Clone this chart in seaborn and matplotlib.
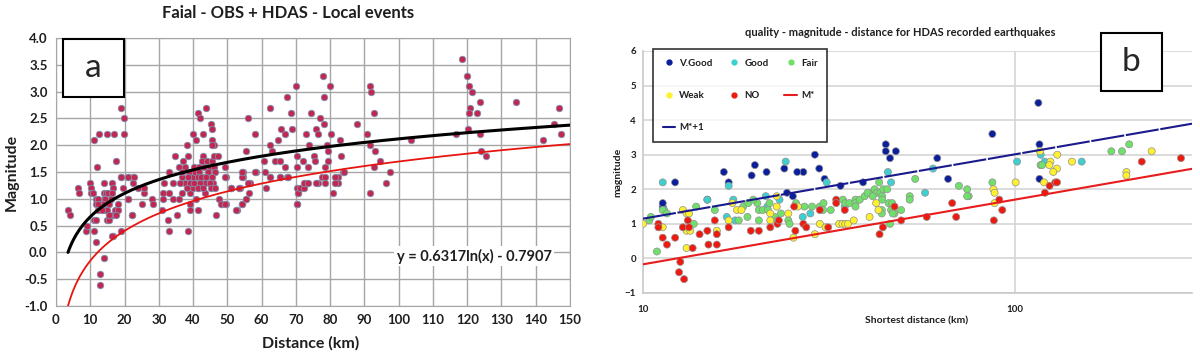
import numpy as np
import pandas as pd
import matplotlib
matplotlib.use("Agg")
import matplotlib.pyplot as plt
import seaborn as sns
from matplotlib.lines import Line2D
from matplotlib.patches import Rectangle

# ---- panel a : Faial OBS + HDAS local events ----
dist_a = [3.6, 4.1, 6.3, 6.6, 8.7, 9.1, 10.0, 10.1, 10.1, 10.8, 11.2, 11.8, 11.0, 11.6,
          11.8, 11.8, 12.3, 12.9, 12.9, 14.0, 14.0, 14.0, 14.6, 15.3, 14.0, 15.0, 14.3, 15.0,
          14.0, 14.4, 14.9, 15.6, 16.5, 16.2, 16.2, 16.5, 16.2, 17.2, 18.0, 16.5, 17.5, 18.0,
          18.9, 19.0, 19.5, 20.9, 22.6, 20.9, 22.4, 22.2, 25.0, 25.7, 24.0, 28.0, 28.4, 30.8,
          31.3, 31.3, 31.6, 32.7, 33.1, 33.0, 34.0, 34.0, 35.2, 36.0, 36.7, 36.8, 37.5, 38.6,
          39.0, 39.0, 39.0, 40.0, 40.0, 40.8, 41.4, 42.0, 41.5, 43.0, 43.5, 43.5, 45.0, 45.7,
          46.8, 47.5, 48.5, 49.7, 49.7, 51.2, 52.7, 53.6, 54.3, 54.5, 54.5, 55.5, 56.2, 56.6,
          58.5, 61.0, 61.2, 62.5, 65.3, 67.3, 70.3, 70.6,
          # upper group 10-25 km
          19.1, 19.8, 11.1, 12.5, 14.9, 16.9, 19.8, 17.4, 12.0, 19.0, 21.1, 22.7, 12.2, 13.6,
          16.0, 15.6, 13.4, 15.6, 12.4, 22.2, 25.7, 21.1,
          # upper group 30-50 km
          41.5, 43.9, 42.0, 40.0, 42.9, 41.0, 38.3, 46.0, 34.8, 38.6, 43.0, 37.0, 42.5, 44.0,
          45.5, 35.8, 37.5, 40.2, 41.8, 43.3, 44.8, 46.2, 33.0, 36.8, 38.8, 40.5, 41.8, 44.5,
          46.3, 38.5, 41.3, 42.2, 43.7, 45.5, 36.2, 39.0, 40.3, 42.0, 44.8, 38.2, 41.5, 43.0,
          45.3, 46.5, 45.1, 45.6, 45.5, 45.5, 46.0, 47.3, 49.3, 49.4, 51.2, 53.5, 48.2, 49.2,
          52.5, 54.2, 55.5, 56.1, 54.2, 54.2, 55.5, 56.1, 58.0, 58.0,
          # 60-100 km
          60.7, 62.4, 62.4, 62.9, 62.4, 63.8, 65.3, 64.8, 65.8, 66.8, 66.8, 65.3, 67.7, 67.4,
          68.7, 68.9, 70.1, 70.3, 70.3, 72.0, 73.1, 73.8, 74.4, 75.2, 75.5, 76.0, 76.4, 76.9,
          78.1, 77.8, 78.1, 80.0, 79.0, 79.5, 79.5, 78.4, 80.3, 83.0, 83.2, 83.7, 70.4, 71.6,
          72.9, 70.2, 70.7, 71.2, 72.3, 72.3, 73.6, 76.5, 78.4, 77.5, 78.6, 80.8, 82.2, 82.2,
          84.1, 73.4, 76.0, 81.5, 81.5, 91.5, 92.0, 92.8, 87.7, 90.9, 91.5, 93.2, 92.7, 94.5,
          97.4, 91.7, 96.2, 103.7,
          # 115-150 km
          118.6, 119.9, 120.5, 121.5, 123.6, 120.7, 120.4, 123.0, 120.2, 116.8, 123.6, 123.9,
          125.4, 134.3, 142.1, 145.2, 146.9, 147.4]
mag_a = [0.8, 0.7, 1.2, 1.1, 0.4, 0.5, 1.3, 1.2, 1.1, 1.1, 0.4, 0.2, 0.6, 0.6,
         1.0, 0.9, 0.8, -0.4, -0.6, -0.1, 1.3, 1.1, 1.1, 1.1, 0.9, 0.9, 0.8, 0.8,
         1.0, 1.0, 0.6, 0.6, 0.3, 0.3, 1.3, 1.2, 1.1, 0.8, 0.8, 0.7, 0.7, 0.9,
         0.4, 1.4, 1.2, 1.4, 1.4, 1.0, 1.3, 0.7, 0.9, 1.1, 1.2, 1.0, 0.9, 0.8,
         1.1, 1.0, 1.3, 0.6, 0.4, 1.1, 1.0, 1.3, 0.7, 1.0, 1.1, 1.4, 1.3, 0.4,
         0.9, 0.8, 1.1, 1.4, 1.2, 1.0, 1.2, 1.3, 0.8, 1.4, 1.3, 1.1, 1.3, 1.3,
         0.7, 1.0, 0.9, 0.9, 1.4, 1.2, 0.8, 1.2, 0.9, 1.4, 1.5, 1.0, 1.1, 1.3,
         1.5, 1.5, 1.2, 1.4, 1.4, 1.4, 0.9, 1.1,
         2.7, 2.5, 2.1, 2.2, 2.2, 2.2, 2.2, 1.7, 1.6, 1.4, 1.4, 1.4, 1.0, 0.9,
         1.0, 0.9, 0.8, 0.7, 0.9, 0.7, 1.2, 1.0,
         2.6, 2.7, 2.5, 2.2, 2.2, 2.1, 2.0, 2.0, 1.8, 1.8, 1.8, 1.7, 1.7, 1.7,
         1.7, 1.6, 1.6, 1.6, 1.6, 1.6, 1.6, 1.6, 1.5, 1.5, 1.5, 1.5, 1.5, 1.5,
         1.5, 1.4, 1.4, 1.4, 1.4, 1.4, 1.3, 1.3, 1.3, 1.3, 1.3, 1.2, 1.2, 1.2,
         1.2, 1.2, 2.4, 2.3, 2.1, 2.0, 1.8, 1.8, 1.6, 1.4, 1.2, 1.2, 0.9, 0.9,
         0.8, 0.9, 1.0, 1.3, 1.4, 1.5, 1.9, 2.5, 2.2, 1.5,
         1.7, 2.7, 2.0, 1.9, 1.4, 1.7, 1.7, 2.1, 2.3, 2.2, 1.6, 1.4, 1.4, 2.9,
         2.6, 2.3, 3.1, 1.8, 1.6, 1.7, 2.2, 2.0, 2.6, 1.8, 1.7, 2.3, 2.2, 2.5,
         2.4, 3.3, 2.9, 3.1, 2.0, 1.9, 1.7, 1.6, 2.2, 2.1, 1.8, 1.5, 1.2, 1.2,
         1.3, 0.9, 1.1, 1.2, 1.2, 1.3, 1.3, 1.3, 1.3, 1.4, 1.4, 1.1, 1.4, 1.3,
         1.5, 1.6, 1.3, 1.4, 1.3, 3.1, 3.0, 2.6, 2.4, 2.2, 2.0, 1.9, 1.6, 1.7,
         1.5, 1.1, 1.3, 2.1,
         3.6, 3.3, 3.1, 3.0, 2.8, 2.7, 2.6, 2.6, 2.3, 2.2, 2.2, 1.9,
         1.8, 2.8, 2.1, 2.4, 2.7, 2.2]

# fit curves shown in panel a
fit_coef = (0.6317, -0.7907)     # black: y = a ln(x) + b
mstar_a_coef = (0.804, -2.007)   # red curve

# ---- panel b : quality - magnitude - distance ----
vgood_d = [11.3, 11.3, 12.2, 14.9, 16.5, 17.0, 19.6, 20.0, 24.0, 24.4, 25.3, 27.0, 29.0,
           29.8, 30.8, 34.0, 39.1, 45.0, 45.0, 47.9, 46.2, 61.9, 66.2, 87.1, 115.8, 116.6,
           116.6, 21.5, 26.0]
vgood_m = [1.5, 1.6, 2.2, 1.7, 2.5, 2.2, 2.4, 2.7, 2.6, 1.9, 1.8, 2.5, 3.0,
           2.6, 2.3, 2.1, 2.2, 3.3, 3.1, 3.1, 2.9, 2.9, 2.3, 3.6, 4.5, 3.3,
           2.3, 2.5, 2.5]
good_d = [11.3, 14.9, 17.0, 16.8, 17.5, 17.7, 21.4, 21.6, 23.3, 24.2, 26.9, 28.2, 31.2,
          34.9, 45.6, 46.5, 57.4, 60.3, 101.5, 117.5, 120.5, 151.5, 11.4]
good_m = [2.2, 1.7, 2.1, 1.2, 1.7, 1.1, 1.8, 1.5, 1.7, 2.8, 1.2, 1.3, 2.2,
          1.5, 2.5, 2.2, 1.9, 2.6, 2.8, 3.0, 2.8, 2.8, 1.4]
fair_d = [10.4, 10.5, 10.9, 11.3, 11.6, 13.7, 13.9, 15.6, 18.1, 19.1, 20.3, 20.5, 20.5,
          21.0, 21.7, 21.9, 23.5, 24.6, 24.8, 25.8, 27.2, 29.9, 30.6, 30.5, 34.5, 35.0,
          35.9, 37.3, 37.3, 37.3, 38.3, 39.5, 41.0, 42.0, 42.5, 43.2, 43.5, 44.0, 44.3,
          44.0, 43.9, 43.9, 45.4, 45.8, 46.2, 46.8, 47.5, 46.5, 47.0, 49.5, 52.2, 52.2,
          54.0, 70.8, 74.5, 75.2, 74.5, 87.1, 117.4, 118.5, 182.0, 194.4, 203.3,
          18.6, 19.2, 19.8, 22.6, 23.0, 28.5, 32.0, 40.2, 41.5]
fair_m = [1.1, 1.2, 0.2, 1.4, 1.3, 1.0, 1.5, 1.4, 1.1, 1.2, 1.6, 1.4, 1.1,
          1.4, 1.4, 1.6, 1.3, 1.1, 1.0, 1.6, 1.5, 1.5, 1.6, 1.4, 1.7, 1.6,
          1.6, 1.7, 1.6, 1.5, 1.7, 1.8, 1.9, 2.0, 1.9, 2.2, 1.9, 1.8, 2.0,
          1.7, 1.4, 1.3, 2.0, 1.6, 1.0, 1.6, 1.3, 1.4, 1.3, 1.4, 1.8, 1.7,
          2.3, 2.1, 2.0, 1.8, 1.8, 2.2, 2.7, 2.7, 3.1, 3.1, 3.3,
          1.5, 1.6, 1.7, 1.2, 1.1, 1.5, 1.4, 1.9, 1.8]
weak_d = [10.0, 11.3, 12.8, 13.1, 13.3, 13.1, 13.4, 13.1, 15.8, 17.0, 17.4, 17.9, 18.4,
          22.0, 22.0, 22.9, 22.9, 24.6, 25.4, 26.1, 29.0, 29.9, 31.0, 33.7, 34.4, 35.0,
          35.6, 36.9, 40.7, 42.4, 43.0, 87.7, 88.3, 88.3, 100.6, 117.0, 130.2, 124.8,
          124.0, 130.0, 127.0, 142.6, 233.7, 199.8, 199.8, 120.0]
weak_m = [1.0, 0.9, 1.4, 1.3, 1.3, 0.8, 0.8, 0.3, 0.8, 1.1, 1.6, 1.4, 1.4,
          1.3, 1.1, 1.5, 1.8, 1.3, 0.6, 1.5, 0.7, 1.0, 0.9, 1.0, 1.0, 1.0,
          1.0, 1.1, 1.2, 1.6, 1.4, 2.0, 1.9, 1.6, 2.2, 3.1, 3.0, 2.8,
          2.7, 2.6, 2.5, 2.8, 3.1, 2.5, 2.4, 2.2]
no_d = [11.0, 11.0, 11.3, 11.6, 12.2, 12.6, 12.5, 12.9, 12.8, 13.2, 13.3, 13.6, 14.2,
        14.9, 15.0, 15.6, 15.8, 15.8, 17.0, 19.5, 20.5, 22.0, 23.0, 23.2, 25.5, 25.7,
        27.0, 27.5, 29.9, 31.5, 33.1, 33.1, 34.9, 43.3, 44.2, 47.5, 49.5, 58.0, 67.9,
        69.6, 87.9, 90.9, 92.6, 120.6, 124.2, 128.6, 130.0, 219.8, 280.2]
no_m = [1.0, 0.9, 0.6, 0.4, 0.6, -0.1, -0.4, -0.6, 0.9, 1.1, 0.9, 0.3, 0.7,
        0.8, 0.4, 1.1, 0.7, 0.4, 0.9, 0.8, 0.8, 0.9, 1.0, 1.1, 1.5, 0.8,
        1.0, 0.9, 1.4, 0.9, 1.7, 1.6, 1.4, 0.7, 0.9, 1.5, 1.1, 1.2, 1.6,
        1.2, 1.1, 1.7, 1.4, 1.9, 2.1, 2.2, 2.2, 2.8, 2.9]

quality_names = ["V.Good", "Good", "Fair", "Weak", "NO"]
quality_colors = ["#0B1E9B", "#3ED0D0", "#6FE06A", "#FFF02E", "#EE1A10"]

# M* lines (log10 distance)
mstar_b = (1.87, -2.04)
mstar1_b = (1.86, -0.71)

# ---------------------------------------------------------------
sns.set_style("white")
plt.rcParams["font.family"] = ["Lato", "DejaVu Sans"]

fig = plt.figure(figsize=(12, 3.56), dpi=100)
W, H = 1200, 356
TXT = "#1E1E1E"


def box(l, t, r, b):
    return [l / W, 1 - b / H, (r - l) / W, (b - t) / H]


# ---------------- panel a ----------------
ax = fig.add_axes(box(56, 38, 570, 306))
df_a = pd.DataFrame({"dist": dist_a, "mag": mag_a})
sns.scatterplot(data=df_a, x="dist", y="mag", ax=ax, color="#C3264E",
                edgecolor="#8090B0", linewidth=0.6, s=22, zorder=3)

xs = np.linspace(3.5, 150, 300)
curves = pd.DataFrame({"x": xs,
                       "fit": fit_coef[0] * np.log(xs) + fit_coef[1],
                       "mst": mstar_a_coef[0] * np.log(xs) + mstar_a_coef[1]})
sns.lineplot(data=curves, x="x", y="fit", ax=ax, color="black", lw=2.2, zorder=4)
sns.lineplot(data=curves, x="x", y="mst", ax=ax, color="#E8140F", lw=1.3, zorder=4)

ax.set_xlim(0, 150)
ax.set_ylim(-1, 4)
ax.set_xticks(np.arange(0, 151, 10))
ax.set_yticks(np.arange(-1, 4.01, 0.5))
ax.set_yticklabels([f"{v:.1f}" for v in np.arange(-1, 4.01, 0.5)])
ax.grid(True, color="#A6A6A6", lw=1.0)
ax.set_axisbelow(True)
for s in ax.spines.values():
    s.set_color("#A6A6A6")
ax.tick_params(length=0, labelsize=9.5, pad=6, labelcolor=TXT)
for lab in ax.get_xticklabels() + ax.get_yticklabels():
    lab.set_fontweight("bold")
ax.set_xlabel("")
ax.set_ylabel("")
ax.text(122, -0.07, "y = 0.6317ln(x) - 0.7907", ha="center", va="center",
        fontsize=10.5, fontweight="bold", zorder=5, color=TXT,
        bbox=dict(facecolor="white", edgecolor="none", pad=2))

fig.text(288 / W, 1 - 13 / H, "Faial - OBS + HDAS - Local events", ha="center",
         va="center", fontsize=12, fontweight="bold", color=TXT)
fig.text(311 / W, 1 - 343 / H, "Distance (km)", ha="center", va="center",
         fontsize=11.5, fontweight="bold", color=TXT)
fig.text(12 / W, 1 - 172 / H, "Magnitude", ha="center", va="center", rotation=90,
         fontsize=11.5, fontweight="bold", color=TXT)

# ---------------- panel b ----------------
bx = fig.add_axes(box(643, 51, 1192, 293))
df_b = pd.concat([
    pd.DataFrame({"dist": d, "mag": m, "q": q})
    for d, m, q in zip([vgood_d, good_d, fair_d, weak_d, no_d],
                       [vgood_m, good_m, fair_m, weak_m, no_m], quality_names)
])
sns.scatterplot(data=df_b, x="dist", y="mag", hue="q", hue_order=quality_names,
                palette=quality_colors, ax=bx, s=26, edgecolor="#909090",
                linewidth=0.5, legend=False, zorder=3)

xb = np.array([10, 300])
lines_b = pd.DataFrame({"x": xb,
                        "m": mstar_b[0] * np.log10(xb) + mstar_b[1],
                        "m1": mstar1_b[0] * np.log10(xb) + mstar1_b[1]})
bx.plot(lines_b["x"], lines_b["m"], color="#E81C1C", lw=1.5, zorder=4)
bx.plot(lines_b["x"], lines_b["m1"], color="#1A1A8C", lw=1.5, ls=(0, (16, 0.8)), zorder=4)

bx.set_xscale("log")
bx.set_xlim(10, 300)
bx.set_ylim(-1, 6)
bx.set_xticks([10, 100])
bx.set_xticklabels(["10", "100"])
bx.minorticks_off()
bx.set_yticks(range(-1, 7))
bx.yaxis.grid(True, color="#D6D6D6", lw=1.2)
bx.axvline(100, color="#D6D6D6", lw=1.2, zorder=0)
bx.set_axisbelow(True)
for k in ["top", "right"]:
    bx.spines[k].set_visible(False)
for k in ["left", "bottom"]:
    bx.spines[k].set_color("#C8C8C8")
    bx.spines[k].set_linewidth(1.2)
bx.tick_params(length=0, labelsize=7, pad=5, labelcolor=TXT)
bx.tick_params(axis="x", pad=9)
for lab in bx.get_xticklabels() + bx.get_yticklabels():
    lab.set_fontweight("bold")
bx.set_xlabel("")
bx.set_ylabel("")

fig.text(900 / W, 1 - 32 / H, "quality - magnitude - distance for HDAS recorded earthquakes",
         ha="center", va="center", fontsize=8, fontweight="bold", color=TXT)
fig.text(917 / W, 1 - 321 / H, "Shortest distance (km)", ha="center", va="center",
         fontsize=7.5, fontweight="bold", color=TXT)
fig.text(618 / W, 1 - 172 / H, "magnitude", ha="center", va="center", rotation=90,
         fontsize=7.5, fontweight="bold", color=TXT)

def dot(c):
    return Line2D([], [], marker="o", ls="none", color=c, markersize=3.5)

h = {n: dot(c) for n, c in zip(quality_names, quality_colors)}
h["M*"] = Line2D([], [], color="#E81C1C", lw=1.5)
h["M*+1"] = Line2D([], [], color="#1A1A8C", lw=1.5)
order = ["V.Good", "Weak", "M*+1", "Good", "NO", "Fair", "M*"]
leg = bx.legend([h[o] for o in order], order, ncol=3, loc="upper left",
                bbox_to_anchor=(648 / W, 1 - 44 / H), bbox_transform=fig.transFigure,
                prop={"weight": "bold", "size": 7}, frameon=True, fancybox=False,
                labelspacing=2.4, handlelength=1.3, handletextpad=0.4,
                columnspacing=1.6, borderpad=1.0)
leg.get_frame().set_edgecolor("black")
leg.get_frame().set_linewidth(1.2)
for t in leg.get_texts():
    t.set_color(TXT)

# ---------------- panel labels ----------------
for (l, t, r, b), letter in [((63, 39, 124, 97), "a"), ((1101, 33, 1162, 91), "b")]:
    fig.patches.append(Rectangle((l / W, 1 - b / H), (r - l) / W, (b - t) / H,
                                 transform=fig.transFigure, facecolor="white",
                                 edgecolor="black", lw=1.5, zorder=10))
    fig.text((l + r) / 2 / W, 1 - (t + b) / 2 / H, letter, ha="center", va="center",
             fontsize=24, zorder=11)

fig.savefig("out.png", dpi=100)
